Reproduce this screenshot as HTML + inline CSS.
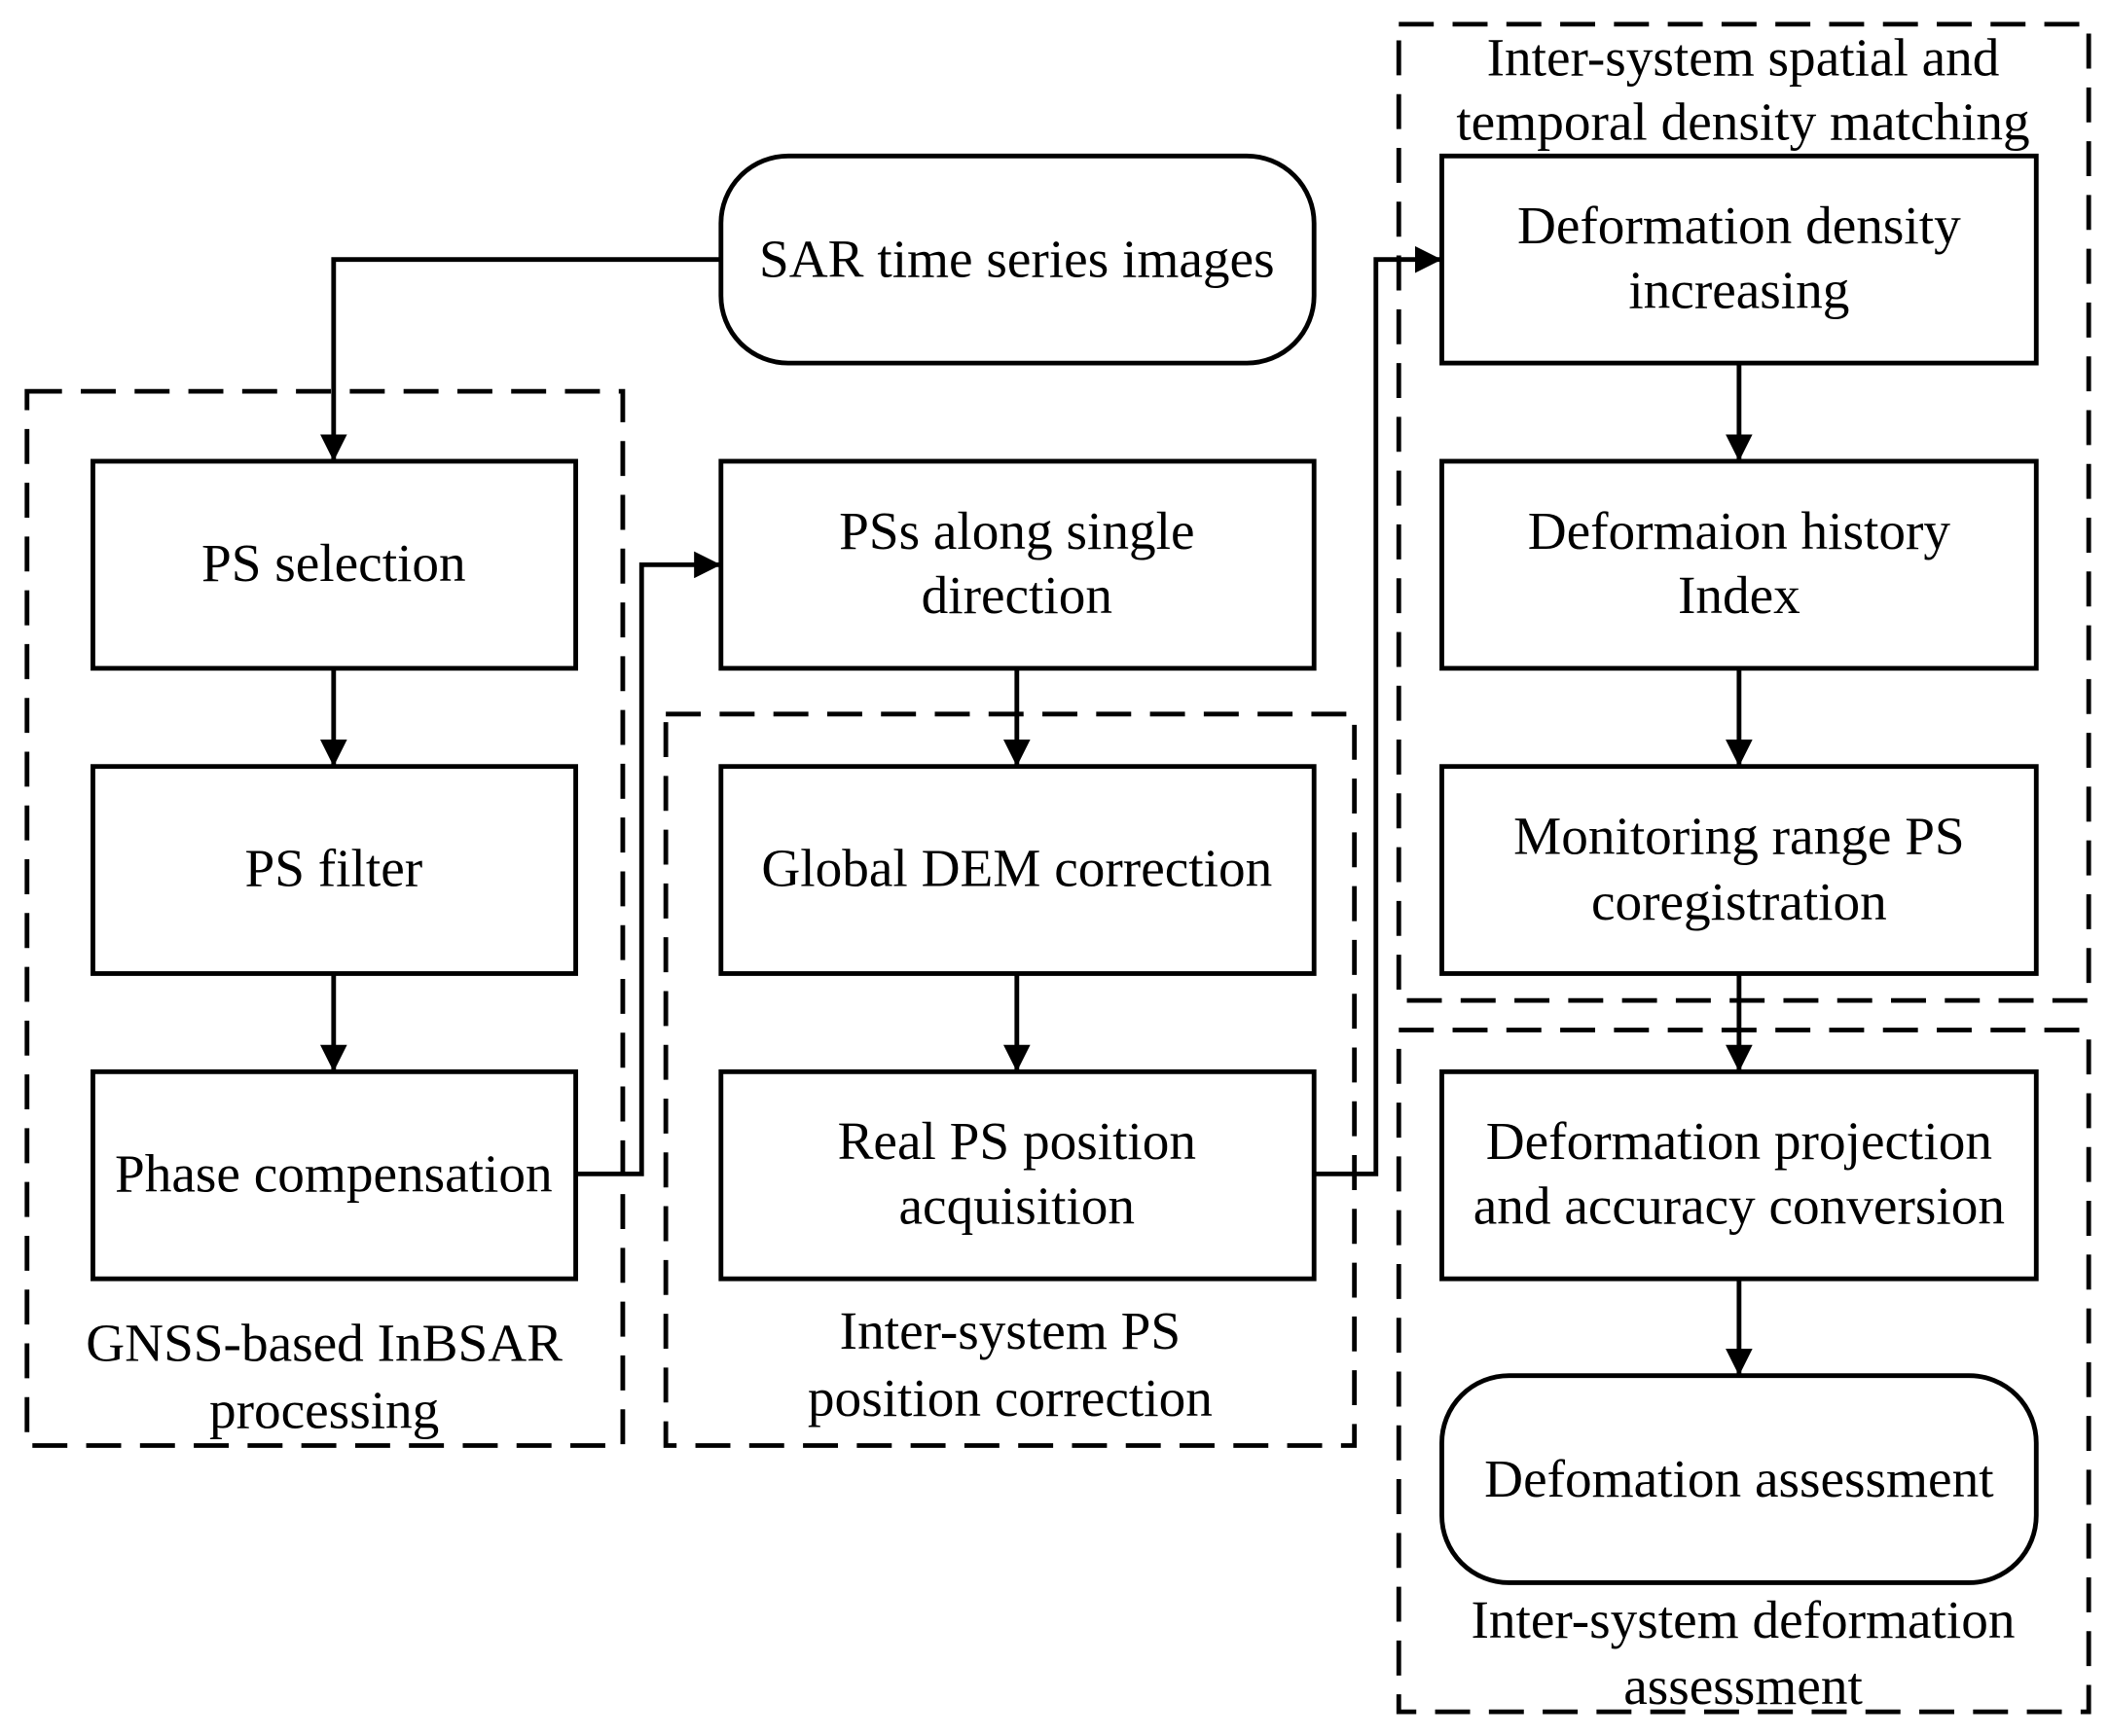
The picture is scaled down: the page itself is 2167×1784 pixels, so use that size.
<!DOCTYPE html>
<html><head><meta charset="utf-8"><style>
html,body{margin:0;padding:0;background:#fff;}
svg{display:block;}
text{font-family:"Liberation Serif",serif;font-size:40px;fill:#000;text-anchor:middle;}
</style></head><body>
<svg width="2167" height="1784" viewBox="0 0 1568 1291" xmlns="http://www.w3.org/2000/svg">
<defs>
<marker id="b" viewBox="0 0 20 20" refX="20" refY="10" markerWidth="20" markerHeight="20" orient="auto" markerUnits="userSpaceOnUse"><path d="M0,0 L20,10 L0,20 z" fill="#000"/></marker></defs>
<g fill="none" stroke="#000" stroke-width="3.5" stroke-dasharray="26,14">
<rect x="20" y="291" width="443" height="784"/>
<rect x="495" y="531" width="512" height="544"/>
<rect x="1040" y="18" width="513" height="726"/>
<rect x="1040" y="766" width="513" height="507"/>
</g>
<g fill="#fff" stroke="#000" stroke-width="3.5">
<rect x="536" y="116" width="441" height="154" rx="50"/>
<rect x="69" y="343" width="359" height="154"/>
<rect x="69" y="570" width="359" height="154"/>
<rect x="69" y="797" width="359" height="154"/>
<rect x="536" y="343" width="441" height="154"/>
<rect x="536" y="570" width="441" height="154"/>
<rect x="536" y="797" width="441" height="154"/>
<rect x="1072" y="116" width="442" height="154"/>
<rect x="1072" y="343" width="442" height="154"/>
<rect x="1072" y="570" width="442" height="154"/>
<rect x="1072" y="797" width="442" height="154"/>
<rect x="1072" y="1023" width="442" height="154" rx="50"/>
</g>
<g fill="none" stroke="#000" stroke-width="3.5" marker-end="url(#b)">
<path d="M536,193 H248 V343"/>
<path d="M248,497 V570"/>
<path d="M248,724 V797"/>
<path d="M428,873 H477 V420 H536"/>
<path d="M756,497 V570"/>
<path d="M756,724 V797"/>
<path d="M977,873 H1023 V193 H1072"/>
<path d="M1293,270 V343"/>
<path d="M1293,497 V570"/>
<path d="M1293,724 V797"/>
<path d="M1293,951 V1023"/>
</g>
<text x="756" y="206">SAR time series images</text>
<text x="248" y="432">PS selection</text>
<text x="248" y="659">PS filter</text>
<text x="248" y="886">Phase compensation</text>
<text x="756" y="408">PSs along single</text>
<text x="756" y="456">direction</text>
<text x="756" y="659">Global DEM correction</text>
<text x="756" y="862">Real PS position</text>
<text x="756" y="910">acquisition</text>
<text x="1293" y="181">Deformation density</text>
<text x="1293" y="229">increasing</text>
<text x="1293" y="408">Deformaion history</text>
<text x="1293" y="456">Index</text>
<text x="1293" y="635">Monitoring range PS</text>
<text x="1293" y="684">coregistration</text>
<text x="1293" y="862">Deformation projection</text>
<text x="1293" y="910">and accuracy conversion</text>
<text x="1293" y="1113">Defomation assessment</text>
<text x="1296" y="56">Inter-system spatial and</text>
<text x="1296" y="104">temporal density matching</text>
<text x="241" y="1012">GNSS-based InBSAR</text>
<text x="241" y="1062">processing</text>
<text x="751" y="1003">Inter-system PS</text>
<text x="751" y="1053">position correction</text>
<text x="1296" y="1218">Inter-system deformation</text>
<text x="1296" y="1267">assessment</text>
</svg>
</body></html>
